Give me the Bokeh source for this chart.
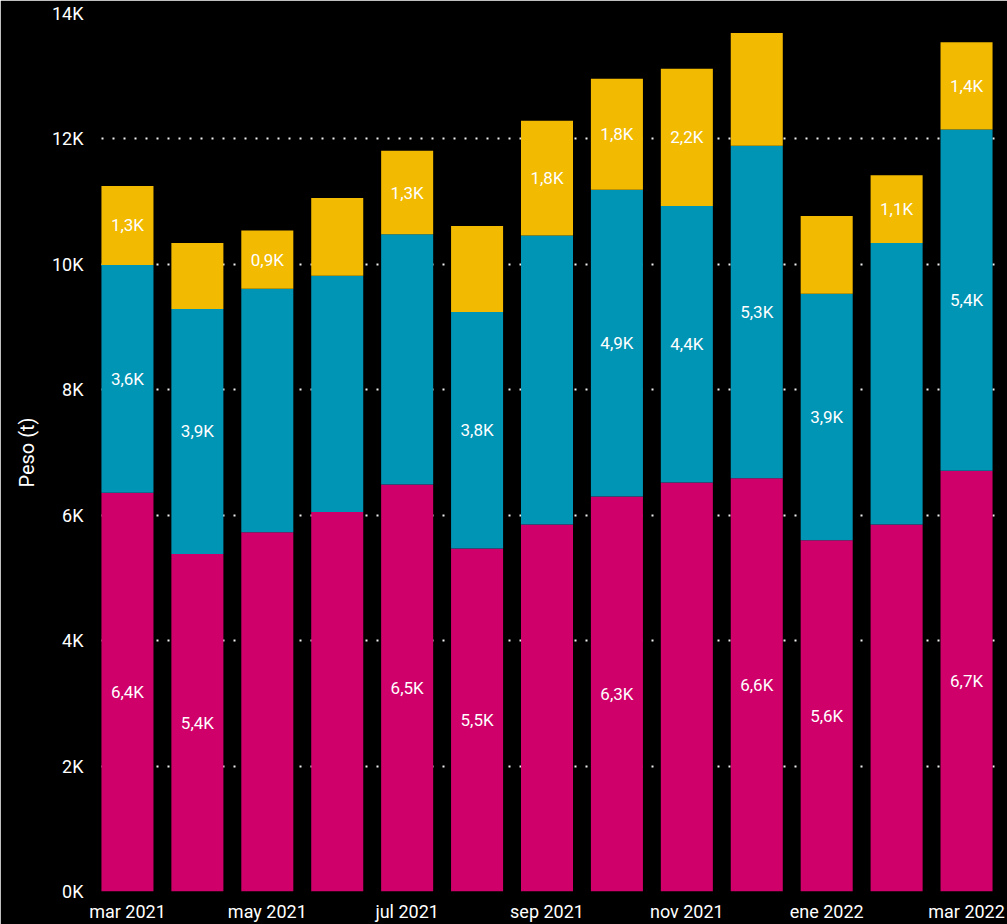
from bokeh.plotting import figure
from bokeh.models import ColumnDataSource, FixedTicker, Range1d
from bokeh.core.properties import value
from bokeh.embed import file_html
from bokeh.resources import INLINE

months = ["mar 2021", "abr 2021", "may 2021", "jun 2021", "jul 2021", "ago 2021",
          "sep 2021", "oct 2021", "nov 2021", "dic 2021", "ene 2022", "feb 2022", "mar 2022"]
pink_vals = [6360, 5380, 5730, 6050, 6490, 5470, 5850, 6300, 6520, 6590, 5600, 5850, 6710]
blue_vals = [3630, 3910, 3880, 3770, 3990, 3770, 4610, 4890, 4410, 5300, 3930, 4490, 5440]
yellow_vals = [1260, 1050, 930, 1240, 1330, 1370, 1830, 1770, 2190, 1800, 1240, 1080, 1390]
pink_show = [1, 1, 0, 0, 1, 1, 0, 1, 0, 1, 1, 0, 1]
blue_show = [1, 1, 0, 0, 0, 1, 0, 1, 1, 1, 1, 0, 1]
yellow_show = [1, 0, 1, 0, 1, 0, 1, 1, 1, 0, 0, 1, 1]
y_ticks = [0, 2000, 4000, 6000, 8000, 10000, 12000, 14000]
y_tick_labels = ["0K", "2K", "4K", "6K", "8K", "10K", "12K", "14K"]
x_tick_idx = [0, 2, 4, 6, 8, 10, 12]

PINK = "#D0006A"
BLUE = "#0094B5"
YELLOW = "#F2BA00"
FONT = "Roboto"

x = list(range(len(months)))
src = ColumnDataSource(dict(x=x, pink=pink_vals, blue=blue_vals, yellow=yellow_vals))

p = figure(width=1007, height=924, output_backend="svg", toolbar_location=None,
           x_range=Range1d(-0.5, len(months) - 0.5), y_range=Range1d(0, 14000),
           min_border_left=92, min_border_right=6, min_border_top=13, min_border_bottom=31)
p.background_fill_color = "black"
p.border_fill_color = "black"
p.outline_line_color = "black"
p.outline_line_width = 2

p.vbar_stack(["pink", "blue", "yellow"], x="x", width=0.744, source=src,
             color=[PINK, BLUE, YELLOW], line_color=None)

def fmt(v):
    return ("%.1fK" % (v / 1000.0)).replace(".", ",")

lx, ly, lt = [], [], []
for i in x:
    b0 = pink_vals[i]
    b1 = b0 + blue_vals[i]
    b2 = b1 + yellow_vals[i]
    if pink_show[i]:
        lx.append(i); ly.append(b0 / 2); lt.append(fmt(pink_vals[i]))
    if blue_show[i]:
        lx.append(i); ly.append((b0 + b1) / 2); lt.append(fmt(blue_vals[i]))
    if yellow_show[i]:
        lx.append(i); ly.append((b1 + b2) / 2); lt.append(fmt(yellow_vals[i]))
p.text(x=lx, y=ly, text=lt, text_color="white", text_align="center",
       text_baseline="middle", text_font=value(FONT), text_font_size="17px")

# grid
p.xgrid.grid_line_color = None
p.ygrid.ticker = FixedTicker(ticks=y_ticks)
p.ygrid.grid_line_color = "#f0f0f0"
p.ygrid.grid_line_width = 2
p.ygrid.grid_line_dash = "2 9"
p.ygrid.grid_line_dash_offset = 2
p.ygrid.level = "underlay"

# y axis
p.yaxis.ticker = FixedTicker(ticks=y_ticks)
p.yaxis.major_label_overrides = {t: l for t, l in zip(y_ticks, y_tick_labels)}
p.yaxis.axis_line_color = None
p.yaxis.major_tick_line_color = None
p.yaxis.minor_tick_line_color = None
p.yaxis.major_tick_out = 0
p.yaxis.major_tick_in = 0
p.yaxis.minor_tick_out = 0
p.yaxis.major_label_text_color = "white"
p.yaxis.major_label_text_font = FONT
p.yaxis.major_label_text_font_size = "18px"
p.yaxis.major_label_standoff = 9
p.yaxis.axis_label = "Peso (t)"
p.yaxis.axis_label_text_color = "white"
p.yaxis.axis_label_text_font = FONT
p.yaxis.axis_label_text_font_style = "normal"
p.yaxis.axis_label_text_font_size = "20px"
p.yaxis.axis_label_standoff = 10

# x axis
p.xaxis.ticker = FixedTicker(ticks=x_tick_idx)
p.xaxis.major_label_overrides = {i: months[i] for i in x_tick_idx}
p.xaxis.axis_line_color = None
p.xaxis.major_tick_line_color = None
p.xaxis.minor_tick_line_color = None
p.xaxis.major_tick_out = 0
p.xaxis.major_tick_in = 0
p.xaxis.minor_tick_out = 0
p.xaxis.major_label_text_color = "white"
p.xaxis.major_label_text_font = FONT
p.xaxis.major_label_text_font_size = "18px"
p.xaxis.major_label_standoff = 9

open("out.html", "w").write(file_html(p, INLINE))
